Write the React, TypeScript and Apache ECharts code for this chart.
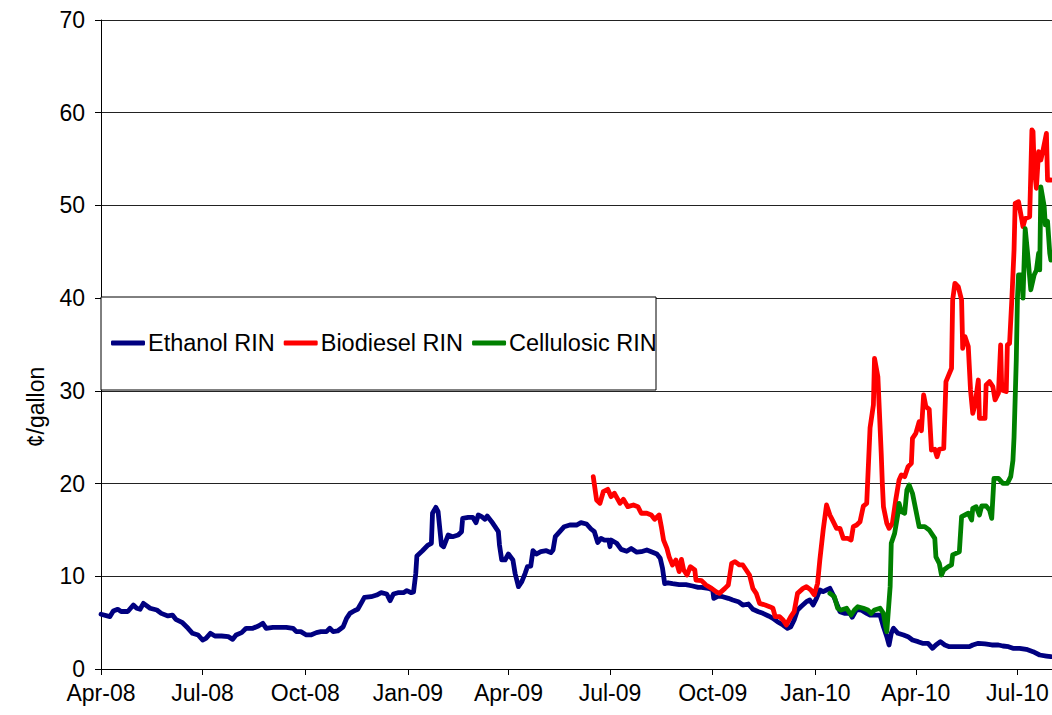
import React, { useEffect, useRef } from 'react';
import * as echarts from 'echarts';

const quarterTicks: string[] = [
  '2008-04-01', '2008-07-01', '2008-10-01', '2009-01-01', '2009-04-01',
  '2009-07-01', '2009-10-01', '2010-01-01', '2010-04-01', '2010-07-01',
];
const monthNames: string[] = ['Jan', 'Feb', 'Mar', 'Apr', 'May', 'Jun', 'Jul', 'Aug', 'Sep', 'Oct', 'Nov', 'Dec'];
const yTicks: number[] = [0, 10, 20, 30, 40, 50, 60, 70];
const seriesNames: string[] = ['Ethanol RIN', 'Biodiesel RIN', 'Cellulosic RIN'];
const seriesColors: string[] = ['#000080', '#FF0000', '#008000'];

const ethanolRIN: [string, number][] = [
  ['2008-04-01', 5.9], ['2008-04-09', 5.65], ['2008-04-12', 6.25], ['2008-04-16', 6.44], ['2008-04-19', 6.2],
  ['2008-04-25', 6.2], ['2008-04-30', 6.9], ['2008-05-03', 6.55], ['2008-05-06', 6.44], ['2008-05-09', 7.08],
  ['2008-05-15', 6.55], ['2008-05-21', 6.36], ['2008-05-25', 6.0], ['2008-05-31', 5.72], ['2008-06-04', 5.82],
  ['2008-06-07', 5.36], ['2008-06-13', 4.99], ['2008-06-18', 4.39], ['2008-06-22', 3.85], ['2008-06-27', 3.67],
  ['2008-07-01', 3.13], ['2008-07-04', 3.31], ['2008-07-08', 3.85], ['2008-07-12', 3.56], ['2008-07-18', 3.56],
  ['2008-07-24', 3.49], ['2008-07-28', 3.2], ['2008-07-31', 3.67], ['2008-08-05', 3.92], ['2008-08-09', 4.39],
  ['2008-08-15', 4.39], ['2008-08-20', 4.64], ['2008-08-24', 4.93], ['2008-08-27', 4.39], ['2008-09-02', 4.5],
  ['2008-09-08', 4.5], ['2008-09-14', 4.5], ['2008-09-20', 4.39], ['2008-09-23', 4.03], ['2008-09-27', 4.03],
  ['2008-10-02', 3.67], ['2008-10-06', 3.67], ['2008-10-11', 3.92], ['2008-10-15', 4.03], ['2008-10-20', 4.03],
  ['2008-10-23', 4.39], ['2008-10-26', 4.03], ['2008-10-30', 4.1], ['2008-11-04', 4.56], ['2008-11-07', 5.47],
  ['2008-11-10', 6.0], ['2008-11-14', 6.29], ['2008-11-17', 6.44], ['2008-11-20', 7.08], ['2008-11-23', 7.73],
  ['2008-11-29', 7.8], ['2008-12-04', 7.98], ['2008-12-08', 8.23], ['2008-12-13', 8.09], ['2008-12-16', 7.37],
  ['2008-12-19', 8.09], ['2008-12-23', 8.23], ['2008-12-28', 8.23], ['2008-12-31', 8.45], ['2009-01-04', 8.23],
  ['2009-01-06', 8.3], ['2009-01-08', 10.3], ['2009-01-09', 12.2], ['2009-01-14', 12.76], ['2009-01-19', 13.37],
  ['2009-01-22', 13.56], ['2009-01-23', 16.8], ['2009-01-26', 17.44], ['2009-01-28', 16.97], ['2009-01-31', 13.37],
  ['2009-02-02', 13.19], ['2009-02-06', 14.45], ['2009-02-10', 14.27], ['2009-02-15', 14.45], ['2009-02-18', 14.81],
  ['2009-02-19', 16.25], ['2009-02-24', 16.36], ['2009-02-28', 16.36], ['2009-03-03', 15.78], ['2009-03-05', 16.61],
  ['2009-03-08', 16.43], ['2009-03-11', 16.15], ['2009-03-13', 16.5], ['2009-03-17', 15.89], ['2009-03-20', 15.35],
  ['2009-03-23', 14.81], ['2009-03-24', 13.37], ['2009-03-26', 11.76], ['2009-03-29', 11.76], ['2009-04-01', 12.4],
  ['2009-04-05', 11.76], ['2009-04-07', 10.3], ['2009-04-10', 8.88], ['2009-04-13', 9.42], ['2009-04-16', 10.32],
  ['2009-04-18', 11.04], ['2009-04-21', 11.1], ['2009-04-23', 12.76], ['2009-04-26', 12.4], ['2009-04-30', 12.65],
  ['2009-05-05', 12.76], ['2009-05-09', 12.55], ['2009-05-11', 12.84], ['2009-05-13', 14.27], ['2009-05-17', 14.81],
  ['2009-05-21', 15.35], ['2009-05-26', 15.53], ['2009-06-01', 15.53], ['2009-06-05', 15.78], ['2009-06-10', 15.64],
  ['2009-06-14', 15.1], ['2009-06-17', 14.81], ['2009-06-20', 13.65], ['2009-06-23', 14.09], ['2009-06-26', 13.91],
  ['2009-06-30', 13.91], ['2009-07-01', 13.19], ['2009-07-02', 13.91], ['2009-07-07', 13.56], ['2009-07-11', 12.9],
  ['2009-07-16', 12.7], ['2009-07-20', 13.0], ['2009-07-25', 12.6], ['2009-07-29', 12.65], ['2009-08-03', 12.84],
  ['2009-08-07', 12.65], ['2009-08-12', 12.4], ['2009-08-15', 11.94], ['2009-08-17', 10.9], ['2009-08-19', 9.2],
  ['2009-08-22', 9.3], ['2009-08-26', 9.2], ['2009-09-01', 9.1], ['2009-09-07', 9.1], ['2009-09-13', 8.95],
  ['2009-09-18', 8.8], ['2009-09-21', 8.81], ['2009-09-27', 8.7], ['2009-10-01', 8.52], ['2009-10-02', 7.62],
  ['2009-10-06', 7.87], ['2009-10-10', 7.8], ['2009-10-15', 7.62], ['2009-10-19', 7.44], ['2009-10-24', 7.26],
  ['2009-10-28', 6.9], ['2009-11-02', 7.01], ['2009-11-06', 6.44], ['2009-11-11', 6.18], ['2009-11-15', 6.0],
  ['2009-11-20', 5.72], ['2009-11-24', 5.47], ['2009-11-28', 5.1], ['2009-12-03', 4.75], ['2009-12-07', 4.39],
  ['2009-12-10', 4.56], ['2009-12-13', 5.29], ['2009-12-16', 6.36], ['2009-12-19', 6.72], ['2009-12-24', 7.26],
  ['2009-12-27', 7.44], ['2009-12-30', 6.9], ['2010-01-02', 7.62], ['2010-01-05', 8.52], ['2010-01-08', 8.34],
  ['2010-01-11', 8.52], ['2010-01-14', 8.7], ['2010-01-17', 7.98], ['2010-01-20', 7.08], ['2010-01-23', 6.18],
  ['2010-01-27', 6.0], ['2010-02-01', 6.0], ['2010-02-03', 5.58], ['2010-02-07', 6.44], ['2010-02-11', 6.36],
  ['2010-02-16', 6.0], ['2010-02-19', 5.82], ['2010-02-23', 5.82], ['2010-02-28', 5.82], ['2010-03-03', 4.56],
  ['2010-03-06', 3.49], ['2010-03-08', 2.59], ['2010-03-10', 3.85], ['2010-03-12', 4.39], ['2010-03-16', 3.85],
  ['2010-03-21', 3.67], ['2010-03-25', 3.49], ['2010-03-29', 3.13], ['2010-04-03', 2.95], ['2010-04-07', 2.77],
  ['2010-04-12', 2.77], ['2010-04-16', 2.23], ['2010-04-19', 2.59], ['2010-04-23', 2.95], ['2010-04-27', 2.59],
  ['2010-05-01', 2.41], ['2010-05-07', 2.41], ['2010-05-13', 2.41], ['2010-05-19', 2.41], ['2010-05-22', 2.59],
  ['2010-05-27', 2.77], ['2010-06-02', 2.7], ['2010-06-08', 2.59], ['2010-06-14', 2.59], ['2010-06-18', 2.48],
  ['2010-06-23', 2.41], ['2010-06-27', 2.23], ['2010-07-03', 2.23], ['2010-07-09', 2.12], ['2010-07-15', 1.87],
  ['2010-07-21', 1.51], ['2010-07-27', 1.4], ['2010-07-31', 1.33],
];

const biodieselRIN: [string, number][] = [
  ['2009-06-16', 20.74], ['2009-06-19', 18.23], ['2009-06-22', 17.87], ['2009-06-25', 19.12], ['2009-06-29', 19.38],
  ['2009-07-02', 18.59], ['2009-07-05', 18.95], ['2009-07-10', 17.87], ['2009-07-13', 18.3], ['2009-07-17', 17.51],
  ['2009-07-22', 17.69], ['2009-07-26', 17.51], ['2009-07-29', 16.8], ['2009-08-03', 16.8], ['2009-08-07', 16.61],
  ['2009-08-10', 16.15], ['2009-08-14', 16.61], ['2009-08-16', 15.35], ['2009-08-18', 13.91], ['2009-08-21', 13.0],
  ['2009-08-23', 12.1], ['2009-08-26', 11.22], ['2009-08-29', 11.76], ['2009-09-01', 10.5], ['2009-09-03', 11.83],
  ['2009-09-05', 10.68], ['2009-09-08', 10.14], ['2009-09-11', 11.04], ['2009-09-15', 10.68], ['2009-09-16', 9.6],
  ['2009-09-21', 9.53], ['2009-09-25', 9.06], ['2009-09-30', 8.7], ['2009-10-04', 8.34], ['2009-10-07', 8.16],
  ['2009-10-12', 8.7], ['2009-10-15', 9.06], ['2009-10-18', 11.4], ['2009-10-21', 11.58], ['2009-10-25', 11.22],
  ['2009-10-28', 11.22], ['2009-10-31', 10.68], ['2009-11-03', 10.14], ['2009-11-06', 8.7], ['2009-11-09', 8.16],
  ['2009-11-12', 7.08], ['2009-11-17', 6.9], ['2009-11-21', 6.72], ['2009-11-24', 6.55], ['2009-11-26', 5.65],
  ['2009-11-30', 5.65], ['2009-12-03', 5.29], ['2009-12-06', 4.75], ['2009-12-10', 5.65], ['2009-12-13', 6.18],
  ['2009-12-16', 8.16], ['2009-12-21', 8.7], ['2009-12-24', 8.88], ['2009-12-28', 8.52], ['2009-12-31', 8.0],
  ['2010-01-03', 9.24], ['2010-01-05', 11.76], ['2010-01-08', 14.99], ['2010-01-11', 17.69], ['2010-01-14', 16.61],
  ['2010-01-17', 15.89], ['2010-01-20', 15.17], ['2010-01-23', 15.17], ['2010-01-26', 14.09], ['2010-01-30', 14.09],
  ['2010-02-02', 13.91], ['2010-02-04', 15.35], ['2010-02-07', 15.53], ['2010-02-10', 15.89], ['2010-02-13', 17.58],
  ['2010-02-16', 17.87], ['2010-02-19', 26.0], ['2010-02-22', 28.48], ['2010-02-23', 33.5], ['2010-02-26', 31.53],
  ['2010-03-01', 23.26], ['2010-03-02', 20.0], ['2010-03-03', 17.5], ['2010-03-06', 15.71], ['2010-03-08', 15.17],
  ['2010-03-11', 15.71], ['2010-03-14', 18.23], ['2010-03-17', 20.39], ['2010-03-19', 20.93], ['2010-03-22', 20.74],
  ['2010-03-25', 21.82], ['2010-03-28', 22.18], ['2010-03-29', 24.88], ['2010-04-01', 25.42], ['2010-04-04', 26.68],
  ['2010-04-06', 25.7], ['2010-04-08', 29.56], ['2010-04-10', 28.3], ['2010-04-13', 28.0], ['2010-04-15', 23.62],
  ['2010-04-18', 23.7], ['2010-04-20', 22.9], ['2010-04-22', 23.7], ['2010-04-26', 23.8], ['2010-04-28', 31.0],
  ['2010-05-03', 32.44], ['2010-05-04', 39.8], ['2010-05-06', 41.6], ['2010-05-09', 41.24], ['2010-05-12', 39.8],
  ['2010-05-13', 34.58], ['2010-05-15', 35.86], ['2010-05-18', 34.78], ['2010-05-20', 30.1], ['2010-05-22', 27.58],
  ['2010-05-24', 28.48], ['2010-05-27', 31.17], ['2010-05-28', 27.04], ['2010-06-02', 27.04], ['2010-06-03', 30.63],
  ['2010-06-06', 31.0], ['2010-06-09', 30.45], ['2010-06-11', 29.02], ['2010-06-14', 29.74], ['2010-06-16', 34.95],
  ['2010-06-17', 30.1], ['2010-06-21', 29.92], ['2010-06-22', 34.95], ['2010-06-24', 35.13], ['2010-06-26', 39.8],
  ['2010-06-28', 45.2], ['2010-06-29', 50.22], ['2010-07-02', 50.4], ['2010-07-05', 48.43], ['2010-07-06', 47.71],
  ['2010-07-08', 48.6], ['2010-07-12', 48.79], ['2010-07-14', 58.14], ['2010-07-15', 57.96], ['2010-07-16', 54.18],
  ['2010-07-18', 51.85], ['2010-07-20', 55.8], ['2010-07-22', 54.9], ['2010-07-24', 55.98], ['2010-07-27', 57.77],
  ['2010-07-28', 52.74], ['2010-07-31', 52.74],
];

const cellulosicRIN: [string, number][] = [
  ['2010-01-14', 8.16], ['2010-01-18', 7.8], ['2010-01-21', 6.55], ['2010-01-24', 6.36], ['2010-01-29', 6.55],
  ['2010-02-02', 5.82], ['2010-02-05', 6.36], ['2010-02-08', 6.72], ['2010-02-13', 6.55], ['2010-02-17', 6.36],
  ['2010-02-20', 6.0], ['2010-02-23', 6.36], ['2010-02-28', 6.55], ['2010-03-03', 6.0], ['2010-03-05', 4.56],
  ['2010-03-06', 4.03], ['2010-03-09', 8.88], ['2010-03-10', 13.56], ['2010-03-13', 14.63], ['2010-03-15', 16.07],
  ['2010-03-16', 16.8], ['2010-03-17', 17.87], ['2010-03-19', 16.97], ['2010-03-22', 16.8], ['2010-03-24', 19.31],
  ['2010-03-26', 19.85], ['2010-03-29', 18.95], ['2010-04-01', 17.15], ['2010-04-04', 15.35], ['2010-04-09', 15.35],
  ['2010-04-13', 14.99], ['2010-04-18', 14.09], ['2010-04-19', 12.1], ['2010-04-22', 11.4], ['2010-04-24', 10.14],
  ['2010-04-26', 10.68], ['2010-04-30', 11.04], ['2010-05-03', 11.22], ['2010-05-04', 12.3], ['2010-05-07', 12.48],
  ['2010-05-10', 12.65], ['2010-05-12', 16.43], ['2010-05-15', 16.61], ['2010-05-18', 16.8], ['2010-05-21', 16.07],
  ['2010-05-22', 17.33], ['2010-05-25', 17.51], ['2010-05-28', 16.61], ['2010-05-30', 17.58], ['2010-06-03', 17.58],
  ['2010-06-06', 17.15], ['2010-06-08', 16.25], ['2010-06-10', 20.57], ['2010-06-14', 20.57], ['2010-06-18', 20.03],
  ['2010-06-22', 20.03], ['2010-06-25', 20.74], ['2010-06-27', 22.5], ['2010-06-28', 25.0], ['2010-06-30', 33.3],
  ['2010-07-01', 39.8], ['2010-07-02', 42.5], ['2010-07-05', 42.5], ['2010-07-06', 40.0], ['2010-07-08', 47.5],
  ['2010-07-10', 45.0], ['2010-07-13', 40.9], ['2010-07-16', 42.5], ['2010-07-18', 43.0], ['2010-07-20', 44.84],
  ['2010-07-21', 43.04], ['2010-07-22', 52.0], ['2010-07-25', 49.9], ['2010-07-26', 47.9], ['2010-07-28', 48.3],
  ['2010-07-30', 44.84], ['2010-07-31', 44.1],
];

const FONT = '"Liberation Sans", Arial, sans-serif';

function toTs(s: string): number {
  const [y, m, d] = s.split('-').map(Number);
  return new Date(y, m - 1, d).getTime();
}

export default function App() {
  const ref = useRef<HTMLDivElement>(null);
  useEffect(() => {
    const chart = echarts.init(ref.current as HTMLDivElement, null, { renderer: 'svg' });
    const tickTs = quarterTicks.map(toTs);
    const seriesData = [ethanolRIN, biodieselRIN, cellulosicRIN];
    chart.setOption({
      animation: false,
      backgroundColor: '#ffffff',
      grid: { left: 101, top: 20, right: 0, bottom: 46, containLabel: false },
      xAxis: {
        type: 'value',
        min: toTs('2008-04-01'),
        max: toTs('2010-08-01'),
        scale: true,
        axisLine: { show: true, onZero: false, lineStyle: { color: '#000', width: 1 } },
        axisTick: { show: true, inside: false, length: 6, customValues: tickTs, lineStyle: { color: '#000', width: 1 } },
        axisLabel: {
          show: true,
          customValues: tickTs,
          margin: 12,
          color: '#000',
          fontSize: 23,
          fontFamily: FONT,
          hideOverlap: false,
          formatter: (val: number) => {
            const d = new Date(val);
            return monthNames[d.getMonth()] + '-' + String(d.getFullYear()).slice(2);
          },
        },
        splitLine: { show: false },
      },
      yAxis: {
        type: 'value',
        min: yTicks[0],
        max: yTicks[yTicks.length - 1],
        interval: 10,
        axisLine: { show: true, lineStyle: { color: '#000', width: 1 } },
        axisTick: { show: true, inside: false, length: 6, lineStyle: { color: '#000', width: 1 } },
        axisLabel: { color: '#000', fontSize: 23, fontFamily: FONT, margin: 16 },
        splitLine: { show: true, lineStyle: { color: '#222', width: 1 } },
      },
      legend: {
        show: true,
        data: seriesNames,
        icon: 'roundRect',
        left: 111,
        top: 331,
        padding: 0,
        itemGap: 9,
        itemWidth: 34,
        itemHeight: 5,
        z: 6,
        textStyle: { color: '#000', fontSize: 23.5, fontFamily: FONT, padding: [0, 0, 0, -2] },
      },
      graphic: [
        {
          type: 'rect',
          z: 5,
          shape: { x: 101, y: 297, width: 555, height: 93 },
          style: { fill: '#ffffff', stroke: '#000', lineWidth: 1 },
        },
        {
          type: 'text',
          z: 5,
          x: 36,
          y: 407,
          rotation: Math.PI / 2,
          style: {
            text: '¢/gallon',
            fill: '#000',
            fontSize: 23,
            fontFamily: FONT,
            align: 'center',
            verticalAlign: 'middle',
          },
        },
      ],
      series: seriesNames.map((name, i) => ({
        name,
        type: 'line',
        data: seriesData[i].map(([d, v]) => [toTs(d), v]),
        showSymbol: false,
        symbol: 'none',
        smooth: false,
        color: seriesColors[i],
        itemStyle: { color: seriesColors[i] },
        lineStyle: { color: seriesColors[i], width: 4.8, cap: 'round', join: 'round' },
        z: 2 + i,
      })),
    });
    return () => chart.dispose();
  }, []);
  return (
    <div
      ref={ref}
      style={{ position: 'fixed', left: 0, top: 0, width: 1052, height: 715, background: '#fff' }}
    />
  );
}
